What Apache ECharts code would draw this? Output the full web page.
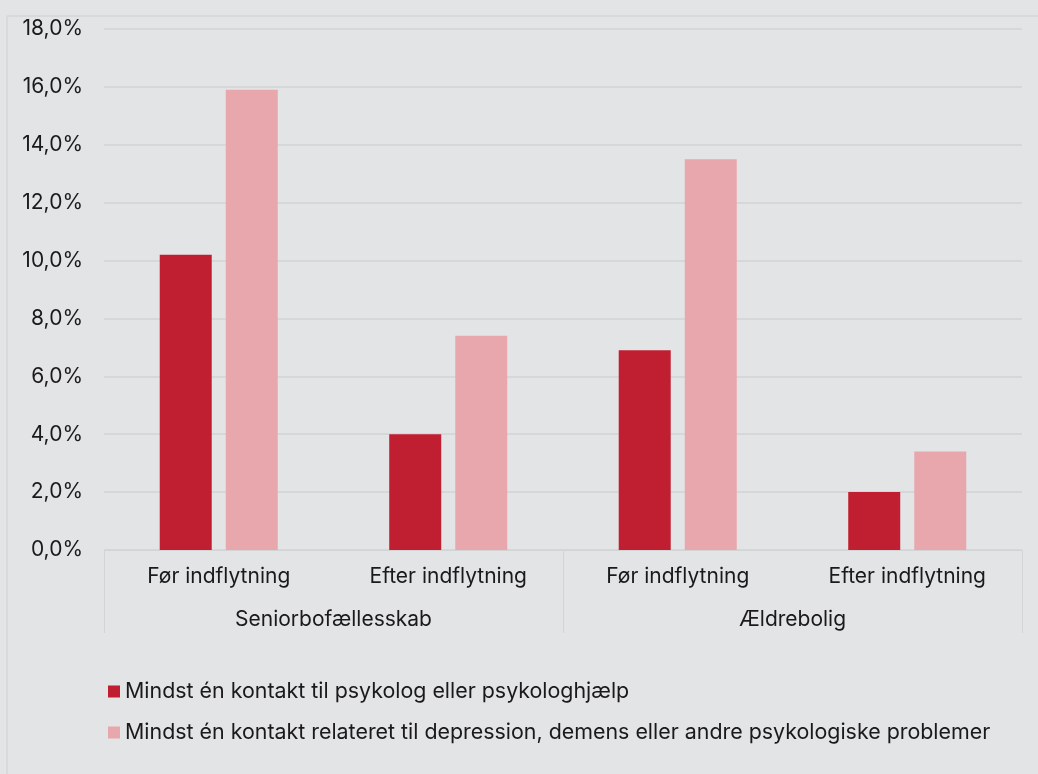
<!DOCTYPE html>
<html>
<head>
<meta charset="utf-8">
<script src="https://cdn.jsdelivr.net/npm/echarts@6/dist/echarts.min.js"></script>
<style>
html,body{margin:0;padding:0;background:#e3e4e6;}
#chart{width:1038px;height:774px;}
</style>
</head>
<body>
<div id="chart"></div>
<script>
const subCategories = ['Før indflytning', 'Efter indflytning', 'Før indflytning', 'Efter indflytning'];
const groupCategories = ['Seniorbofællesskab', 'Ældrebolig'];
const seriesNames = [
  'Mindst én kontakt til psykolog eller psykologhjælp',
  'Mindst én kontakt relateret til depression, demens eller andre psykologiske problemer'
];
const psykologValues = [10.2, 4.0, 6.9, 2.0];
const depressionValues = [15.9, 7.4, 13.5, 3.4];
const yTicks = { min: 0, max: 18, interval: 2 };

const FONT = 'Inter, "Noto Sans", sans-serif';
const FS = 21;
const chart = echarts.init(document.getElementById('chart'), null, { renderer: 'canvas' });
chart.setOption({
  backgroundColor: '#e3e4e6',
  animation: false,
  textStyle: { fontFamily: FONT },
  graphic: [
    { type: 'line', shape: { x1: 7, y1: 16, x2: 1038, y2: 16 }, style: { stroke: '#d8d9db', lineWidth: 2 } },
    { type: 'line', shape: { x1: 7, y1: 16, x2: 7, y2: 774 }, style: { stroke: '#d8d9db', lineWidth: 2 } }
  ],
  grid: { left: 104, right: 16, top: 29, bottom: 224, containLabel: false },
  legend: {
    orient: 'vertical',
    left: 108,
    top: 681,
    padding: 0,
    itemWidth: 12,
    itemHeight: 12,
    itemGap: 20,
    icon: 'rect',
    textStyle: { fontFamily: FONT, fontSize: 21.4, color: '#1a1a1a', lineHeight: 21 },
    data: seriesNames
  },
  xAxis: [
    {
      type: 'category',
      data: subCategories,
      position: 'bottom',
      axisLine: { show: true, lineStyle: { color: '#d3d4d6', width: 1 } },
      axisTick: { show: false },
      axisLabel: { fontFamily: FONT, fontSize: FS, color: '#1a1a1a', margin: 16, interval: 0 }
    },
    {
      type: 'category',
      data: groupCategories,
      position: 'bottom',
      axisLine: { show: false },
      axisTick: { show: true, length: 83, interval: 0, lineStyle: { color: '#d3d4d6', width: 1 } },
      axisLabel: { fontFamily: FONT, fontSize: FS, color: '#1a1a1a', margin: 59, interval: 0 }
    }
  ],
  yAxis: {
    type: 'value',
    min: yTicks.min,
    max: yTicks.max,
    interval: yTicks.interval,
    axisLine: { show: false },
    axisTick: { show: false },
    splitLine: { lineStyle: { color: '#d6d7d9', width: 2 } },
    axisLabel: {
      fontFamily: FONT, fontSize: FS, color: '#1a1a1a', margin: 21,
      formatter: v => v.toFixed(1).replace('.', ',') + '%'
    }
  },
  series: [
    {
      name: seriesNames[0],
      type: 'bar',
      xAxisIndex: 0,
      data: psykologValues,
      barWidth: 52,
      barGap: '27%',
      itemStyle: { color: '#c01e31' }
    },
    {
      name: seriesNames[1],
      type: 'bar',
      xAxisIndex: 0,
      data: depressionValues,
      barWidth: 52,
      barGap: '27%',
      itemStyle: { color: '#e8a7ad' }
    }
  ]
});
</script>
</body>
</html>
